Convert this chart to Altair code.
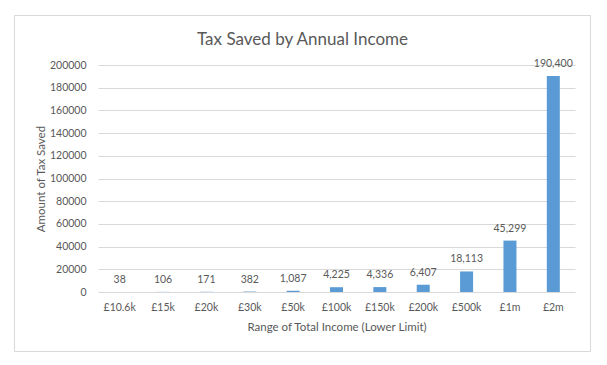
import altair as alt
import pandas as pd

categories = ["£10.6k", "£15k", "£20k", "£30k", "£50k", "£100k", "£150k", "£200k", "£500k", "£1m", "£2m"]
values = [38, 106, 171, 382, 1087, 4225, 4336, 6407, 18113, 45299, 190400]
y_ticks = [0, 20000, 40000, 60000, 80000, 100000, 120000, 140000, 160000, 180000, 200000]

df = pd.DataFrame({"income": categories, "tax": values})

FONT = "Lato"
TEXT = "#595959"
GRID = "#D9D9D9"
BAR = "#5B9BD5"

x = alt.X(
    "income:N",
    sort=categories,
    title="Range of Total Income (Lower Limit)",
    scale=alt.Scale(paddingInner=0.7, paddingOuter=0.35),
    axis=alt.Axis(
        labelAngle=0, ticks=False, domain=False, grid=False,
        labelPadding=10, labelFontSize=10.5, labelFont=FONT, labelColor=TEXT,
        titleFont=FONT, titleFontSize=11.5, titleColor=TEXT, titleFontWeight="normal",
        titlePadding=9, labelOverlap=False,
    ),
)
y = alt.Y(
    "tax:Q",
    title="Amount of Tax Saved",
    scale=alt.Scale(domain=[0, 200000], nice=False),
    axis=alt.Axis(
        values=y_ticks, format="d", ticks=False, domain=False, grid=True,
        gridColor=GRID, gridWidth=1, labelOverlap=False,
        labelPadding=12, labelFontSize=10.5, labelFont=FONT, labelColor=TEXT,
        titleFont=FONT, titleFontSize=11.5, titleColor=TEXT, titleFontWeight="normal",
        titlePadding=3,
    ),
)

bars = alt.Chart(df).mark_bar(color=BAR).encode(x=x, y=y)

labels = alt.Chart(df).mark_text(
    baseline="alphabetic", dy=-9, font=FONT, fontSize=10.5, color=TEXT
).encode(
    x=x,
    y=y,
    text=alt.Text("tax:Q", format=","),
)

frame = alt.Chart(alt.Data(values=[{"k": 1}])).mark_rect(
    fill="transparent", stroke=GRID, strokeWidth=1
).encode(
    x=alt.value(-83.5), x2=alt.value(492.5),
    y=alt.value(-49.5), y2=alt.value(286.5),
)

chart = alt.layer(frame, bars, labels).properties(
    width=477,
    height=227,
    title=alt.TitleParams(
        "Tax Saved by Annual Income", font=FONT, fontSize=17, fontWeight="normal",
        color=TEXT, anchor="middle", frame="bounds", baseline="alphabetic",
        offset=0, dy=47,
    ),
    autosize=alt.AutoSizeParams(type="none"),
    padding={"left": 90, "top": 57, "right": 20, "bottom": 60},
    background="white",
).configure_view(stroke=None)

chart.save("out.html", embed_options={"renderer": "svg", "actions": False})
